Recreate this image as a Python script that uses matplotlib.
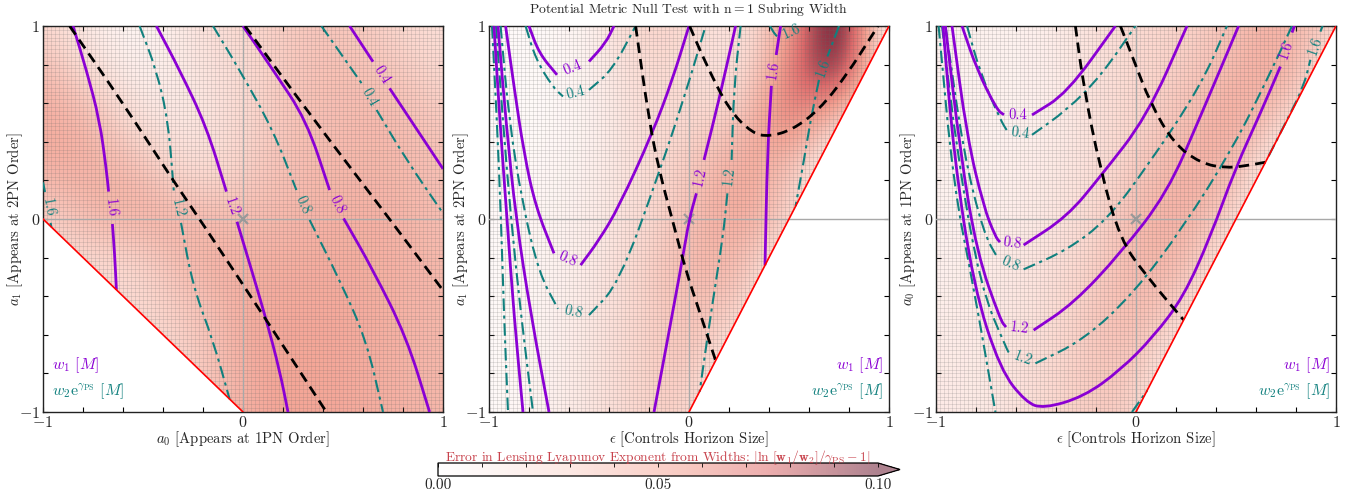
import numpy as np
import matplotlib
matplotlib.use("Agg")
import matplotlib.pyplot as plt
from matplotlib.colors import LinearSegmentedColormap, Normalize
from matplotlib.collections import LineCollection
from matplotlib.patches import Polygon, PathPatch
from matplotlib.path import Path
from matplotlib.ticker import MultipleLocator

plt.rcParams["font.family"] = "serif"
plt.rcParams["font.serif"] = ["cmr10"]
plt.rcParams["mathtext.fontset"] = "cm"
plt.rcParams["axes.unicode_minus"] = False
plt.rcParams["axes.formatter.use_mathtext"] = True

TITLE = r"Potential Metric Null Test with $\mathrm{n}=1$ Subring Width"
CBAR_LABEL = (r"Error in Lensing Lyapunov Exponent from Widths: "
              r"$|\ln\,[\mathbf{w_1/w_2}]/\gamma_{\mathrm{PS}} - \mathbf{1}|$")
cbar_ticks = [0.0, 0.05, 0.10]
cbar_ticklabels = ["0.00", "0.05", "0.10"]

# nodes of the coarse error grid (same in x and y)
err_nodes = [-1.0, -0.75, -0.5, -0.25, 0.0, 0.25, 0.5, 0.75, 1.0]

# ---------------- panel 1: a0 (x) vs a1 (y) ----------------
# rows from y = 1 (top) to y = -1 (bottom)
p1_err = [
    [0.030, 0.012, 0.005, 0.020, 0.028, 0.036, 0.038, 0.030, 0.022],
    [0.045, 0.025, 0.008, 0.018, 0.025, 0.038, 0.042, 0.038, 0.028],
    [0.052, 0.045, 0.020, 0.015, 0.028, 0.040, 0.042, 0.045, 0.035],
    [0.048, 0.048, 0.042, 0.022, 0.032, 0.042, 0.045, 0.045, 0.040],
    [0.030, 0.045, 0.048, 0.046, 0.042, 0.045, 0.048, 0.048, 0.040],
    [0.025, 0.025, 0.028, 0.046, 0.048, 0.050, 0.050, 0.048, 0.044],
    [0.025, 0.025, 0.028, 0.035, 0.050, 0.052, 0.052, 0.048, 0.044],
    [0.025, 0.025, 0.025, 0.032, 0.050, 0.054, 0.052, 0.048, 0.044],
    [0.025, 0.025, 0.025, 0.030, 0.050, 0.054, 0.052, 0.048, 0.044],
]
p1_domain = [(-1, 0), (0, -1), (1, -1), (1, 1), (-1, 1)]
p1_edge = [(-1, 0), (0, -1)]
# (label, points before label gap, points after label gap)
p1_w1 = [
    ("1.6", [(-0.85, 1.0), (-0.783, 0.772), (-0.717, 0.512), (-0.683, 0.254), (-0.672, 0.142)],
            [(-0.653, -0.026), (-0.642, -0.178), (-0.633, -0.367)]),
    ("1.2", [(-0.433, 1.0), (-0.317, 0.772), (-0.183, 0.479), (-0.083, 0.142)],
            [(-0.03, -0.014), (0.033, -0.23), (0.117, -0.524), (0.183, -0.784), (0.225, -1.0)]),
    ("0.8", [(0.0, 1.0), (0.15, 0.772), (0.317, 0.512), (0.433, 0.15)],
            [(0.503, 0.003), (0.65, -0.264), (0.817, -0.611), (0.933, -1.0)]),
    ("0.4", [(0.533, 1.0), (0.65, 0.815)],
            [(0.733, 0.677), (1.0, 0.26)]),
]
p1_w2 = [
    ("1.6", [(-1.0, 0.19), (-0.99, 0.14)], [(-0.962, -0.02), (-0.958, -0.042)]),
    ("1.2", [(-0.517, 1.0), (-0.433, 0.772), (-0.375, 0.512), (-0.35, 0.2), (-0.345, 0.13)],
            [(-0.31, -0.02), (-0.25, -0.351), (-0.15, -0.628), (-0.067, -0.933)]),
    ("0.8", [(-0.15, 1.0), (-0.017, 0.772), (0.15, 0.462), (0.267, 0.15)],
            [(0.333, -0.005), (0.483, -0.316), (0.617, -0.628), (0.7, -1.0)]),
    ("0.4", [(0.392, 1.0), (0.595, 0.70)],
            [(0.668, 0.565), (0.817, 0.306), (1.0, 0.03)]),
]
p1_null = [
    [(-0.867, 1.0), (-0.6, 0.6), (-0.35, 0.2), (-0.217, 0.0), (0.117, -0.524), (0.417, -1.0)],
    [(0.01, 1.0), (0.35, 0.52), (0.733, 0.0), (1.0, -0.37)],
]

# ---------------- panel 2: epsilon (x) vs a1 (y) ----------------
p2_err = [
    [0.004, 0.004, 0.008, 0.032, 0.028, 0.015, 0.050, 0.125, 0.000],
    [0.004, 0.004, 0.008, 0.028, 0.024, 0.018, 0.068, 0.110, 0.000],
    [0.004, 0.004, 0.008, 0.024, 0.028, 0.035, 0.075, 0.030, 0.000],
    [0.004, 0.006, 0.010, 0.024, 0.035, 0.055, 0.040, 0.000, 0.000],
    [0.004, 0.008, 0.012, 0.025, 0.040, 0.055, 0.035, 0.000, 0.000],
    [0.004, 0.008, 0.014, 0.030, 0.045, 0.045, 0.010, 0.000, 0.000],
    [0.004, 0.008, 0.016, 0.030, 0.040, 0.035, 0.000, 0.000, 0.000],
    [0.004, 0.008, 0.018, 0.030, 0.040, 0.015, 0.000, 0.000, 0.000],
    [0.004, 0.008, 0.018, 0.030, 0.035, 0.000, 0.000, 0.000, 0.000],
]
p2_domain = [(-1, -1), (0, -1), (1, 1), (-1, 1)]
p2_edge = [(0, -1), (1, 1)]
p2_w1 = [
    ("0.4", [(-0.8, 1.0), (-0.75, 0.859), (-0.66, 0.747)],
            [(-0.5, 0.816), (-0.417, 0.911), (-0.375, 1.0)]),
    ("0.8", [(-0.917, 1.0), (-0.875, 0.686), (-0.825, 0.34), (-0.767, 0.064), (-0.675, -0.178)],
            [(-0.542, -0.239), (-0.45, -0.11), (-0.35, 0.064), (-0.183, 0.444), (-0.083, 0.721), (0.0, 1.0)]),
    ("", [(-0.955, 1.0), (-0.915, 0.5), (-0.865, 0.0), (-0.79, -0.5), (-0.70, -1.0)], []),
    ("1.2", [(0.233, 1.0), (0.15, 0.617), (0.075, 0.306)],
            [(0.037, 0.133), (0.0, -0.005), (-0.033, -0.213), (-0.175, -1.0)]),
    ("", [(-0.975, 1.0), (-0.945, 0.5), (-0.91, 0.0), (-0.875, -0.5), (-0.83, -1.0)], []),
    ("1.6", [(0.458, 1.0), (0.436, 0.85)],
            [(0.412, 0.69), (0.392, 0.34), (0.38, -0.24)]),
]
p2_w2 = [
    ("0.4", [(-0.817, 1.0), (-0.767, 0.83), (-0.683, 0.686), (-0.63, 0.635)],
            [(-0.5, 0.669), (-0.383, 0.773), (-0.267, 1.0)]),
    ("0.8", [(-0.942, 1.0), (-0.9, 0.513), (-0.833, 0.081), (-0.75, -0.282), (-0.655, -0.465)],
            [(-0.5, -0.498), (-0.35, -0.334), (-0.15, 0.237), (-0.017, 0.652), (0.083, 1.0)]),
    ("", [(-0.965, 1.0), (-0.93, 0.5), (-0.89, 0.0), (-0.84, -0.5), (-0.78, -1.0)], []),
    ("1.2", [(0.258, 1.0), (0.225, 0.686), (0.213, 0.306)],
            [(0.192, 0.133), (0.17, -0.092), (0.117, -0.437), (0.053, -0.895)]),
    ("", [(-0.985, 1.0), (-0.96, 0.5), (-0.94, 0.0), (-0.925, -0.5), (-0.905, -1.0)], []),
    ("1.6", [(0.75, 1.0), (0.692, 0.842)],
            [(0.65, 0.721), (0.608, 0.513), (0.575, 0.306), (0.533, 0.067)]),
    ("1.6", [(0.405, 1.0), (0.43, 0.955), (0.45, 0.94)], [(0.58, 1.0)]),
]
p2_null = [
    [(-0.267, 1.0), (-0.2, 0.513), (-0.15, 0.254), (-0.083, -0.005), (-0.017, -0.264),
     (0.05, -0.472), (0.133, -0.733)],
    [(0.003, 1.0), (0.083, 0.807), (0.2, 0.565), (0.317, 0.444), (0.4, 0.427), (0.517, 0.462),
     (0.65, 0.565), (0.783, 0.738), (0.933, 0.98), (0.945, 1.0)],
]

# ---------------- panel 3: epsilon (x) vs a0 (y) ----------------
p3_err = [
    [0.010, 0.010, 0.010, 0.020, 0.028, 0.030, 0.040, 0.050, 0.030],
    [0.010, 0.010, 0.010, 0.020, 0.028, 0.035, 0.045, 0.055, 0.010],
    [0.010, 0.010, 0.010, 0.020, 0.030, 0.040, 0.055, 0.030, 0.000],
    [0.010, 0.010, 0.015, 0.020, 0.035, 0.050, 0.045, 0.000, 0.000],
    [0.010, 0.010, 0.015, 0.025, 0.045, 0.050, 0.030, 0.000, 0.000],
    [0.010, 0.015, 0.020, 0.030, 0.045, 0.045, 0.010, 0.000, 0.000],
    [0.012, 0.015, 0.020, 0.035, 0.045, 0.030, 0.000, 0.000, 0.000],
    [0.015, 0.015, 0.025, 0.035, 0.040, 0.010, 0.000, 0.000, 0.000],
    [0.015, 0.015, 0.025, 0.035, 0.035, 0.000, 0.000, 0.000, 0.000],
]
p3_domain = [(-1, -1), (0, -1), (1, 1), (-1, 1)]
p3_edge = [(0, -1), (1, 1)]
p3_w1 = [
    ("0.4", [(-0.87, 1.0), (-0.795, 0.773), (-0.695, 0.565), (-0.66, 0.54)],
            [(-0.52, 0.539), (-0.345, 0.652), (-0.103, 1.0)]),
    ("0.8", [(-0.92, 1.0), (-0.845, 0.427), (-0.762, 0.064), (-0.703, -0.092), (-0.68, -0.12)],
            [(-0.562, -0.135), (-0.345, 0.012), (-0.178, 0.22), (0.055, 0.531), (0.255, 1.0)]),
    ("1.2", [(-0.953, 1.0), (-0.878, 0.34), (-0.795, -0.178), (-0.678, -0.524), (-0.65, -0.56)],
            [(-0.512, -0.576), (-0.312, -0.437), (-0.078, -0.178), (0.155, 0.133), (0.322, 0.531),
             (0.513, 1.0)]),
    ("1.6", [(-0.965, 1.0), (-0.912, 0.34), (-0.812, -0.351), (-0.678, -0.783), (-0.55, -0.95),
             (-0.462, -0.982), (-0.262, -0.921), (-0.078, -0.783), (0.088, -0.609), (0.238, -0.403),
             (0.372, -0.092), (0.497, 0.263), (0.622, 0.548), (0.722, 0.79)],
            [(0.78, 0.966), (0.792, 1.0)]),
]
p3_w2 = [
    ("0.4", [(-0.845, 1.0), (-0.778, 0.755), (-0.678, 0.513), (-0.64, 0.45)],
            [(-0.52, 0.436), (-0.345, 0.565), (-0.178, 0.738), (-0.003, 1.0)]),
    ("0.8", [(-0.953, 1.0), (-0.862, 0.34), (-0.762, -0.074), (-0.69, -0.205)],
            [(-0.562, -0.261), (-0.345, -0.161), (-0.145, -0.005), (0.055, 0.271), (0.322, 0.686),
             (0.455, 1.0)]),
    ("1.2", [(-0.97, 1.0), (-0.895, 0.34), (-0.778, -0.351), (-0.645, -0.679), (-0.63, -0.7)],
            [(-0.503, -0.748), (-0.262, -0.627), (-0.012, -0.385), (0.238, -0.04), (0.488, 0.375),
             (0.655, 0.721), (0.78, 1.0)]),
    ("", [(-0.987, 1.0), (-0.912, 0.168), (-0.812, -0.351), (-0.703, -1.0)], []),
    ("", [(-0.02, -1.0), (0.055, -0.89)], []),
    ("1.6", [(0.663, 0.326), (0.755, 0.513), (0.838, 0.686), (0.872, 0.825)],
            [(0.922, 0.971), (0.933, 1.0)]),
]
p3_null = [
    [(-0.303, 1.0), (-0.262, 0.686), (-0.178, 0.254), (-0.078, -0.109), (0.055, -0.299),
     (0.238, -0.523)],
    [(-0.078, 1.0), (-0.012, 0.825), (0.072, 0.6), (0.188, 0.392), (0.322, 0.289), (0.455, 0.263),
     (0.572, 0.28), (0.647, 0.294)],
]

PURPLE = "#8a00d4"
TEAL = "#11807e"
TEXT = "#262626"

cmap = LinearSegmentedColormap.from_list(
    "err", [(0.0, "#ffffff"), (0.3, "#fbd6cd"), (0.55, "#f4a293"),
            (0.75, "#de6c6c"), (1.0, "#6c1c34")])
norm = Normalize(0.0, 0.1)
mesh = np.linspace(-1, 1, 101)


def smooth_path(pts):
    # quadratic bezier through the midpoints, read points act as control points
    pts = np.asarray(pts, dtype=float)
    if len(pts) < 3:
        return Path(pts)
    mids = (pts[:-1] + pts[1:]) / 2
    verts = [pts[0], mids[0]]
    codes = [Path.MOVETO, Path.LINETO]
    for i in range(1, len(pts) - 1):
        verts += [pts[i], mids[i]]
        codes += [Path.CURVE3, Path.CURVE3]
    verts.append(pts[-1])
    codes.append(Path.LINETO)
    return Path(verts, codes)


def draw_curve(ax, pts, color, ls, lw, z):
    patch = PathPatch(smooth_path(pts), fill=False, edgecolor=color, linestyle=ls,
                      lw=lw, zorder=z, capstyle="butt", joinstyle="round")
    ax.add_patch(patch)


def draw_contour(ax, entry, color, ls, lw):
    label, seg_a, seg_b = entry
    for seg in (seg_a, seg_b):
        if len(seg) > 1:
            draw_curve(ax, seg, color, ls, lw, 4)
    if label and seg_b:
        (x0, y0), (x1, y1) = seg_a[-1], seg_b[0]
        p0 = ax.transData.transform((x0, y0))
        p1 = ax.transData.transform((x1, y1))
        ang = np.degrees(np.arctan2(p1[1] - p0[1], p1[0] - p0[0]))
        if ang > 90:
            ang -= 180
        if ang < -90:
            ang += 180
        ax.text((x0 + x1) / 2, (y0 + y1) / 2, label, rotation=ang,
                rotation_mode="anchor", ha="center", va="center",
                color=color, fontsize=10.5, zorder=6)


def draw_panel(ax, err, domain, edge, w1, w2, null, xlabel, ylabel, right_legend):
    clip = Polygon(domain, closed=True, transform=ax.transData,
                   facecolor="none", edgecolor="none")
    ax.add_patch(clip)
    half = (err_nodes[1] - err_nodes[0]) / 2
    ext = (err_nodes[0] - half, err_nodes[-1] + half,
           err_nodes[0] - half, err_nodes[-1] + half)
    im = ax.imshow(err, cmap=cmap, norm=norm, extent=ext, origin="upper",
                   interpolation="bicubic", aspect="auto", zorder=1)
    im.set_clip_path(clip)

    segs = [[(g, -1), (g, 1)] for g in mesh] + [[(-1, g), (1, g)] for g in mesh]
    lc = LineCollection(segs, colors=[(0.4, 0.4, 0.4, 0.3)], linewidths=0.4, zorder=2)
    ax.add_collection(lc)
    lc.set_clip_path(clip)

    ax.axhline(0, color="#a8a8a8", lw=1.0, zorder=3)
    ax.axvline(0, color="#a8a8a8", lw=1.0, zorder=3)
    ax.plot([0], [0], marker="x", color="#999999", ms=7, mew=1.6, zorder=3)

    for entry in w2:
        draw_contour(ax, entry, TEAL, (0, (6, 2.2, 1.5, 2.2)), 1.5)
    for entry in w1:
        draw_contour(ax, entry, PURPLE, "-", 2.0)
    for seg in null:
        draw_curve(ax, seg, "black", (0, (3.8, 2.2)), 2.0, 5)
    ex, ey = zip(*edge)
    ax.plot(ex, ey, color="red", lw=1.2, zorder=5)

    ax.set_xlim(-1, 1)
    ax.set_ylim(-1, 1)
    ax.set_xticks([-1, 0, 1])
    ax.set_xticklabels([r"$-1$", r"$0$", r"$1$"])
    ax.set_yticks([-1, 0, 1])
    ax.set_yticklabels([r"$-1$", r"$0$", r"$1$"])
    ax.xaxis.set_minor_locator(MultipleLocator(0.2))
    ax.yaxis.set_minor_locator(MultipleLocator(0.2))
    ax.tick_params(which="both", direction="in", top=True, right=True,
                   length=3.5, width=0.8, labelsize=11.5, labelcolor=TEXT, pad=2)
    for sp in ax.spines.values():
        sp.set_linewidth(1.0)
        sp.set_color("#222222")
    ax.set_xlabel(xlabel, fontsize=10.6, color=TEXT, labelpad=0)
    ax.set_ylabel(ylabel, fontsize=10.6, color=TEXT, labelpad=-4)

    if right_legend:
        lx, ha = 0.985, "right"
    else:
        lx, ha = 0.0225, "left"
    ax.text(lx, 0.122, r"$w_1\ [M]$", transform=ax.transAxes, ha=ha, va="center",
            color=PURPLE, fontsize=11.5, zorder=7)
    ax.text(lx, 0.055, r"$w_2\mathrm{e}^{\gamma_{\mathrm{PS}}}\ [M]$", transform=ax.transAxes,
            ha=ha, va="center", color=TEAL, fontsize=11.5, zorder=7)


W, H = 1350, 499
fig = plt.figure(figsize=(W / 100, H / 100), dpi=100)
bottom, height = 1 - 412 / H, 386 / H
ax1 = fig.add_axes([43 / W, bottom, 400 / W, height])
ax2 = fig.add_axes([489 / W, bottom, 400 / W, height])
ax3 = fig.add_axes([936 / W, bottom, 400 / W, height])
for ax in (ax1, ax2, ax3):
    ax.set_xlim(-1, 1)
    ax.set_ylim(-1, 1)

draw_panel(ax1, p1_err, p1_domain, p1_edge, p1_w1, p1_w2, p1_null,
           r"$a_0$ [Appears at 1PN Order]", r"$a_1$ [Appears at 2PN Order]", False)
draw_panel(ax2, p2_err, p2_domain, p2_edge, p2_w1, p2_w2, p2_null,
           r"$\epsilon$ [Controls Horizon Size]", r"$a_1$ [Appears at 2PN Order]", True)
draw_panel(ax3, p3_err, p3_domain, p3_edge, p3_w1, p3_w2, p3_null,
           r"$\epsilon$ [Controls Horizon Size]", r"$a_0$ [Appears at 1PN Order]", True)

fig.text(689 / W, 1 - 9 / H, TITLE, ha="center", va="center", fontsize=9.8, color=TEXT)

cax = fig.add_axes([438 / W, 1 - 476 / H, 462 / W, 13 / H])
sm = plt.cm.ScalarMappable(norm=norm, cmap=cmap)
cb = fig.colorbar(sm, cax=cax, orientation="horizontal", extend="max", alpha=0.55)
cb.set_ticks(cbar_ticks)
cb.set_ticklabels(cbar_ticklabels)
cax.xaxis.set_minor_locator(MultipleLocator(0.01))
cax.tick_params(which="both", direction="in", top=True, bottom=False, labelbottom=True,
                length=3, width=0.6, labelsize=11, labelcolor=TEXT, pad=2)
cb.outline.set_linewidth(0.9)
cax.set_title(CBAR_LABEL, color="#c8424c", fontsize=9.7, pad=1.5)

fig.savefig("out.png", dpi=100)
